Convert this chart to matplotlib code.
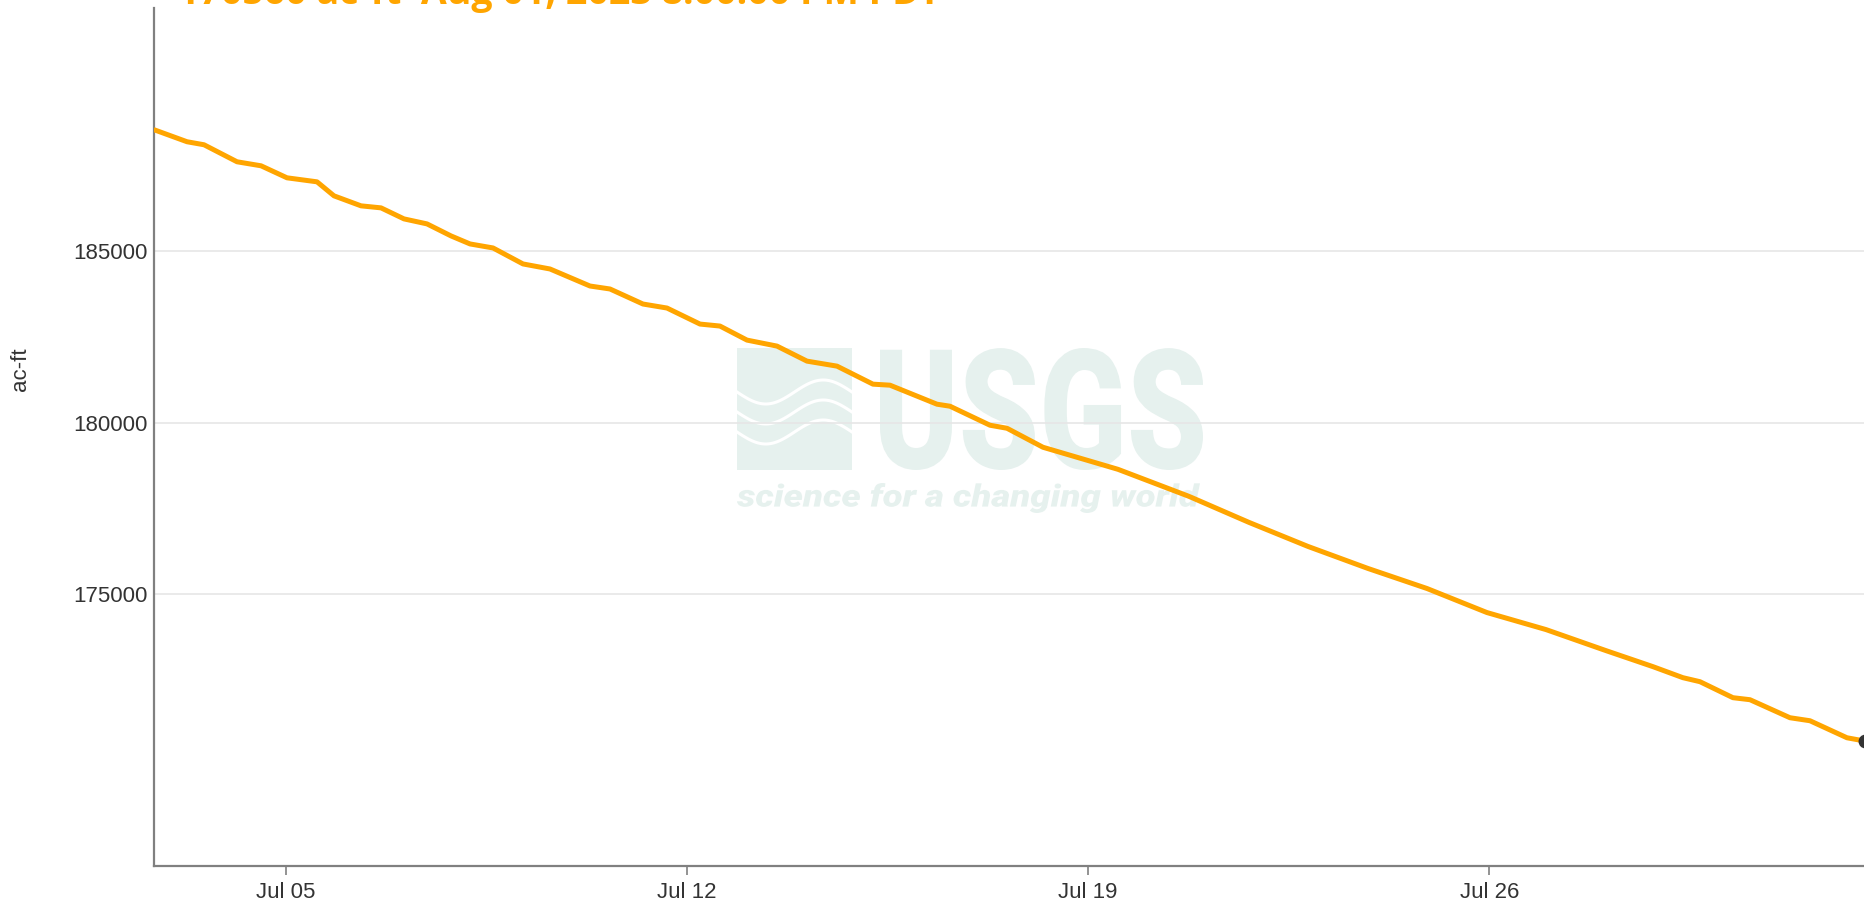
import numpy as np
import pandas as pd
import matplotlib
matplotlib.use("Agg")
import matplotlib.pyplot as plt
import matplotlib.dates as mdates
from matplotlib.textpath import TextPath
from matplotlib.font_manager import FontProperties
from matplotlib.patches import PathPatch, Rectangle
from matplotlib.transforms import Affine2D

# reservoir storage readings (ac-ft)
times = [
    "2023-07-02 17:33", "2023-07-03 06:32", "2023-07-03 13:39", "2023-07-04 03:29",
    "2023-07-04 13:32", "2023-07-05 00:25", "2023-07-05 12:59", "2023-07-05 20:06",
    "2023-07-06 07:25", "2023-07-06 15:47", "2023-07-07 01:25", "2023-07-07 11:03",
    "2023-07-07 21:07", "2023-07-08 05:04", "2023-07-08 14:42", "2023-07-09 03:16",
    "2023-07-09 14:34", "2023-07-10 07:19", "2023-07-10 15:42", "2023-07-11 05:31",
    "2023-07-11 15:34", "2023-07-12 05:24", "2023-07-12 13:46", "2023-07-13 01:05",
    "2023-07-13 13:39", "2023-07-14 02:13", "2023-07-14 14:47", "2023-07-15 05:51",
    "2023-07-15 12:59", "2023-07-16 08:40", "2023-07-16 14:07", "2023-07-17 06:52",
    "2023-07-17 13:59", "2023-07-18 05:04", "2023-07-19 12:29", "2023-07-20 18:13",
    "2023-07-21 19:21", "2023-07-22 20:04", "2023-07-23 21:12", "2023-07-24 21:55",
    "2023-07-25 23:02", "2023-07-26 23:46", "2023-07-28 00:53", "2023-07-28 20:34",
    "2023-07-29 09:07", "2023-07-29 16:15", "2023-07-30 06:04", "2023-07-30 13:12",
    "2023-07-31 05:57", "2023-07-31 14:20", "2023-08-01 05:50", "2023-08-01 13:30",
]
storage = [
    188526, 188196, 188108, 187611,
    187494, 187143, 187026, 186617,
    186325, 186266, 185944, 185798,
    185447, 185213, 185096, 184629,
    184482, 183985, 183898, 183459,
    183342, 182874, 182816, 182406,
    182231, 181792, 181646, 181120,
    181090, 180535, 180476, 179921,
    179833, 179278, 178634, 177845,
    177085, 176383, 175740, 175155,
    174453, 173956, 173342, 172874,
    172552, 172435, 171968, 171909,
    171383, 171295, 170798, 170700,
]
y_ticks = [175000, 180000, 185000]
x_ticks = ["2023-07-05", "2023-07-12", "2023-07-19", "2023-07-26"]
title = "170560 ac-ft  Aug 01, 2023 8:00:00 PM PDT"

W, H, DPI = 1865, 902, 100
plt.rcParams["font.family"] = ["Liberation Sans", "DejaVu Sans"]

fig = plt.figure(figsize=(W / DPI, H / DPI), dpi=DPI)
ax = fig.add_axes([154 / W, (H - 866) / H, 1726 / W, 858 / H])

t = pd.to_datetime(times)
ax.plot(t, storage, color="#FFA500", lw=3.6, zorder=3)
ax.plot(t[-1:], storage[-1:], "o", color="#333333", ms=9, zorder=4)

ax.set_xlim(pd.Timestamp("2023-07-02 16:42"), pd.Timestamp("2023-08-01 19:40"))
ax.set_ylim(167055, 192100)
ax.set_yticks(y_ticks)
ax.set_yticklabels([str(v) for v in y_ticks])
ax.set_xticks(pd.to_datetime(x_ticks))
ax.xaxis.set_major_formatter(mdates.DateFormatter("%b %d"))

ax.set_axisbelow(True)
ax.grid(axis="y", color="#e6e6e6", lw=1.2)
for s in ["top", "right"]:
    ax.spines[s].set_visible(False)
for s in ["left", "bottom"]:
    ax.spines[s].set_color("#808080")
    ax.spines[s].set_linewidth(1.6)
ax.tick_params(axis="y", length=0, pad=4.5, labelsize=16, labelcolor="#333333")
ax.tick_params(axis="x", length=6.5, width=1.2, color="#808080", pad=5,
               labelsize=16, labelcolor="#333333")

fig.text(21 / W, 1 - 369 / H, "ac-ft", rotation=90, ha="center", va="center",
         fontsize=16, color="#333333")

# title, mostly cut off at the top of the screenshot
fig.text(178 / W, 1 - 4 / H, title, ha="left", va="baseline", fontsize=27,
         fontweight="bold", family=["Open Sans", "DejaVu Sans"], color="#FFA500")


# faint USGS watermark, placed in screen pixels
def px_trans():
    return Affine2D().scale(1, -1).translate(0, H).scale(1 / DPI) + fig.dpi_scale_trans


def fit_text(s, box, prop, color):
    tp = TextPath((0, 0), s, size=100, prop=prop)
    ext = tp.get_extents()
    x0, y0, x1, y1 = box
    tr = (Affine2D().translate(-ext.x0, -ext.y0)
          .scale((x1 - x0) / ext.width, (y1 - y0) / ext.height)
          .translate(x0, H - y1).scale(1 / DPI) + fig.dpi_scale_trans)
    ax.add_patch(PathPatch(tp, transform=tr, fc=color, ec="none", zorder=0.2,
                           clip_on=False))


wm = "#e6f1ee"
ax.add_patch(Rectangle((737, 348), 115, 122, transform=px_trans(), fc=wm,
                       ec="none", zorder=0.2, clip_on=False))
wx = np.linspace(737, 852, 60)
for off in [392, 412, 432]:
    ax.plot(wx, off + 12 * np.sin((wx - 737) / 115 * 2 * np.pi), color="white",
            lw=2.2, transform=px_trans(), zorder=0.25, clip_on=False)
fit_text("USGS", (880, 348, 1203, 470), FontProperties(family="Roboto", weight="black"), wm)
fit_text("science for a changing world", (737, 483, 1200, 513),
         FontProperties(family="Roboto", weight="black", style="italic"), wm)

fig.savefig("out.png", dpi=DPI)
